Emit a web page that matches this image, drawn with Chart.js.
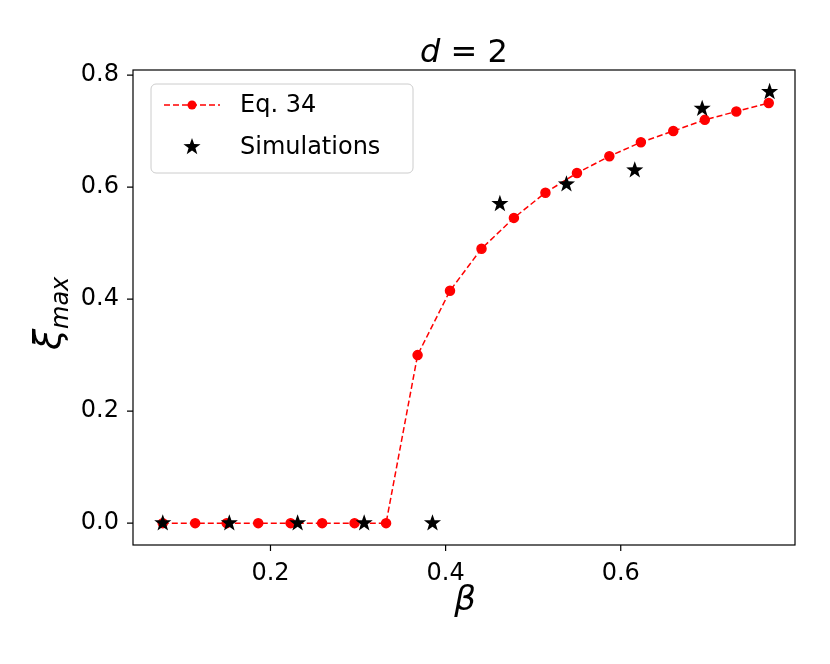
<!DOCTYPE html>
<html><head><script src="https://cdn.jsdelivr.net/npm/chart.js@4"></script>
<style>body{margin:0;background:#fff}</style></head><body>
<canvas id="c" width="830" height="664"></canvas>
<script>
const eqBeta=[0.077,0.114,0.150,0.186,0.223,0.259,0.296,0.332,0.368,0.405,0.441,0.478,0.514,0.550,0.587,0.623,0.660,0.696,0.732,0.769];
const eqXi=[0,0,0,0,0,0,0,0,0.30,0.415,0.49,0.545,0.59,0.625,0.655,0.68,0.70,0.72,0.735,0.75];
const simBeta=[0.077,0.153,0.231,0.307,0.385,0.462,0.538,0.616,0.693,0.770];
const simXi=[0,0,0,0,0,0.57,0.605,0.63,0.74,0.77];
const xTicks=[0.2,0.4,0.6];
const yTicks=[0,0.2,0.4,0.6,0.8];
const F='"DejaVu Sans", sans-serif';
function star(ctx,x,y,r){ctx.beginPath();for(let i=0;i<10;i++){const a=-Math.PI/2+i*Math.PI/5,rr=i%2?r*0.4:r;ctx.lineTo(x+rr*Math.cos(a),y+rr*Math.sin(a));}ctx.closePath();ctx.fill();}
const deco={id:'deco',afterDraw(ch){const ctx=ch.ctx,a=ch.chartArea;ctx.save();
ctx.strokeStyle='#000';ctx.lineWidth=1.2;ctx.strokeRect(a.left,a.top,a.right-a.left,a.bottom-a.top);
ctx.fillStyle='#000';ctx.textBaseline='alphabetic';
ctx.font='italic 32px '+F;ctx.textAlign='left';
const t1='d',t2=' = 2';ctx.font='italic 32px '+F;const w1=ctx.measureText(t1).width;ctx.font='32px '+F;const w2=ctx.measureText(t2).width;
let sx=(a.left+a.right)/2-(w1+w2)/2;ctx.font='italic 32px '+F;ctx.fillText(t1,sx,62);ctx.font='32px '+F;ctx.fillText(t2,sx+w1,62);
ctx.font='italic 34px '+F;ctx.textAlign='center';ctx.fillText('β',465,610);
ctx.translate(60,310);ctx.rotate(-Math.PI/2);ctx.textAlign='left';ctx.font='italic 38px '+F;ctx.fillText('ξ',-40,0);ctx.font='italic 24px '+F;ctx.fillText('max',-19,8);
ctx.restore();
ctx.save();const lx=151,ly=84,lw=262,lh=89;ctx.fillStyle='rgba(255,255,255,0.8)';ctx.strokeStyle='#ccc';ctx.lineWidth=1;
ctx.beginPath();ctx.roundRect(lx,ly,lw,lh,5);ctx.fill();ctx.stroke();
ctx.strokeStyle='red';ctx.lineWidth=1.5;ctx.setLineDash([6,3]);ctx.beginPath();ctx.moveTo(164,105);ctx.lineTo(220,105);ctx.stroke();ctx.setLineDash([]);
ctx.fillStyle='red';ctx.beginPath();ctx.arc(192,105,4.5,0,7);ctx.fill();ctx.fillStyle='#000';star(ctx,192,147,9);
ctx.font='24px '+F;ctx.textBaseline='middle';ctx.fillText('Eq. 34',240,106);ctx.fillText('Simulations',240,148);ctx.restore();}};
new Chart(document.getElementById('c'),{type:'scatter',data:{datasets:[
{data:eqBeta.map((x,i)=>({x,y:eqXi[i]})),showLine:true,borderColor:'red',backgroundColor:'red',borderDash:[6,3],borderWidth:1.5,pointRadius:4.5,pointHoverRadius:4.5,order:2},
{data:simBeta.map((x,i)=>({x,y:simXi[i]})),pointStyle:'star',borderColor:'#000',backgroundColor:'#000',order:1,pointRadius:0}
]},options:{responsive:false,animation:false,layout:{padding:{top:70,right:35,left:0,bottom:0}},
plugins:{legend:{display:false},tooltip:{enabled:false}},
scales:{x:{type:'linear',min:0.043,max:0.799,afterFit(s){s.height=119;},afterBuildTicks(s){s.ticks=xTicks.map(v=>({value:v}));},grid:{display:false,drawTicks:true},border:{display:false},ticks:{color:'#000',font:{size:24,family:F},padding:6,callback:v=>v.toFixed(1)}},
y:{min:-0.039,max:0.809,afterFit(s){s.width=133;},afterBuildTicks(s){s.ticks=yTicks.map(v=>({value:v}));},grid:{display:false},border:{display:false},ticks:{color:'#000',font:{size:24,family:F},padding:6,callback:v=>v.toFixed(1)}}}},
plugins:[deco,{id:'stars',afterDatasetsDraw(ch){const m=ch.getDatasetMeta(1),ctx=ch.ctx;ctx.save();ctx.fillStyle='#000';m.data.forEach(p=>star(ctx,p.x,p.y,9));ctx.restore();}},
{id:'tk',afterDraw(ch){const ctx=ch.ctx,a=ch.chartArea,xs=ch.scales.x,ys=ch.scales.y;ctx.save();ctx.strokeStyle='#000';ctx.lineWidth=1.2;ctx.beginPath();
xTicks.forEach(v=>{const p=xs.getPixelForValue(v);ctx.moveTo(p,a.bottom);ctx.lineTo(p,a.bottom+6);});
yTicks.forEach(v=>{const p=ys.getPixelForValue(v);ctx.moveTo(a.left,p);ctx.lineTo(a.left-6,p);});ctx.stroke();ctx.restore();}}]});
</script></body></html>
